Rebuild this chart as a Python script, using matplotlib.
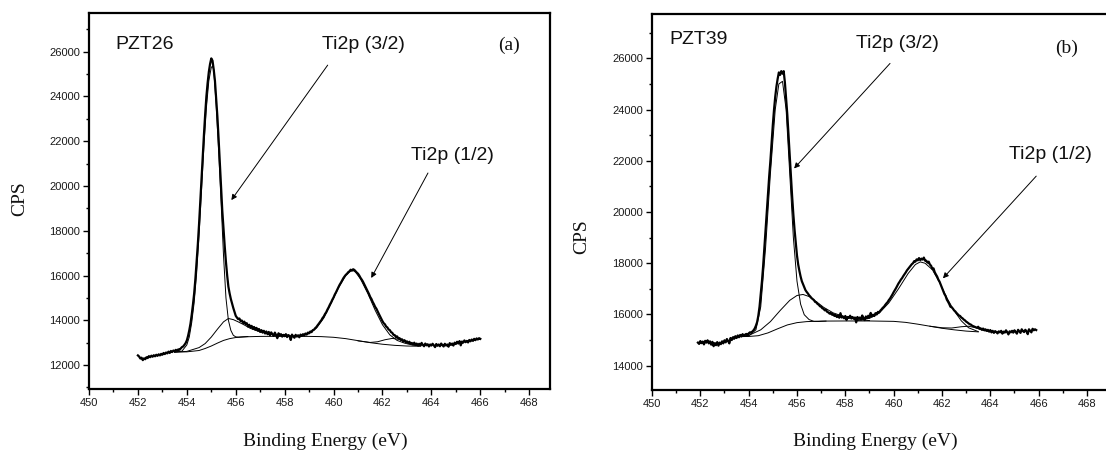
"""
Ti2p XPS spectra of PZT26 and PZT39 films, with peak fit components.
"""

import numpy as np
import matplotlib
matplotlib.use("Agg")
import matplotlib.pyplot as plt
from matplotlib.ticker import MultipleLocator

W, H = 1106, 455

# ── (a) PZT26 : measured spectrum, 0.05 eV steps from 452.0 eV
A_START = 452.0
A_STEP = 0.05
A_CPS = [
    12430, 12380, 12290, 12330, 12220, 12300, 12260, 12350, 12310, 12400,
    12350, 12420, 12370, 12440, 12390, 12460, 12410, 12480, 12430, 12500,
    12460, 12540, 12490, 12560, 12520, 12600, 12540, 12630, 12580, 12650,
    12610, 12680, 12640, 12700, 12680, 12740, 12800, 12830, 12900, 12980,
    13100, 13300, 13550, 13850, 14250, 14700, 15200, 15850, 16600, 17400,
    18300, 19300, 20300, 21300, 22300, 23200, 24000, 24600, 25100, 25450,
    25700, 25600, 25200, 24700, 23900, 23100, 22100, 21000, 19900, 18900,
    18100, 17300, 16600, 16000, 15500, 15200, 14950, 14750, 14550, 14380,
    14200, 14120, 14050, 14080, 13960, 13990, 13880, 13940, 13830, 13870,
    13720, 13800, 13680, 13750, 13620, 13700, 13580, 13660, 13540, 13610,
    13480, 13560, 13450, 13530, 13410, 13500, 13380, 13480, 13330, 13460,
    13380, 13300, 13450, 13340, 13200, 13420, 13310, 13380, 13270, 13350,
    13290, 13380, 13250, 13340, 13300, 13120, 13360, 13280, 13220, 13350,
    13270, 13330, 13240, 13360, 13300, 13380, 13320, 13410, 13360, 13450,
    13420, 13500, 13470, 13560, 13580, 13650, 13700, 13780, 13850, 13930,
    14000, 14100, 14170, 14280, 14360, 14480, 14580, 14700, 14800, 14920,
    15020, 15150, 15250, 15370, 15480, 15590, 15680, 15780, 15880, 15960,
    16030, 16080, 16150, 16190, 16260, 16220, 16280, 16250, 16190, 16130,
    16080, 16000, 15900, 15820, 15730, 15620, 15510, 15400, 15280, 15170,
    15040, 14950, 14820, 14720, 14600, 14520, 14400, 14290, 14180, 14060,
    13960, 13870, 13820, 13720, 13680, 13590, 13560, 13470, 13440, 13350,
    13340, 13250, 13280, 13180, 13200, 13120, 13150, 13050, 13110, 13020,
    13060, 12980, 13040, 12950, 12990, 12920, 13000, 12900, 12960, 12880,
    12950, 12860, 12990, 12900, 12840, 12960, 12880, 12930, 12830, 12920,
    12870, 12950, 12880, 12800, 12940, 12860, 12920, 12840, 12960, 12890,
    12830, 12950, 12870, 12920, 12820, 12980, 12900, 12960, 12870, 13000,
    12940, 13040, 12960, 13070, 12880, 13050, 13000, 13100, 13020, 13080,
    13010, 13120, 13060, 13140, 13080, 13170, 13110, 13190, 13140, 13200,
    13170,
]

# (a) fit: background
A_BG_E = [453.5, 454.0, 454.5, 454.75, 455.0, 455.25, 455.5, 455.75, 456.0,
          456.5, 457.0, 458.0, 459.0, 459.5, 460.0, 460.5, 461.0, 461.5,
          462.0, 462.5, 463.0, 463.5]
A_BG = [12580, 12590, 12650, 12740, 12850, 12980, 13100, 13180, 13230,
        13265, 13280, 13285, 13280, 13270, 13240, 13180, 13090, 13000,
        12930, 12880, 12850, 12840]

# (a) fit: main Ti2p 3/2 component
A_P1_E = [453.5, 453.8, 454.0, 454.1, 454.2, 454.3, 454.4, 454.5, 454.6,
          454.7, 454.8, 454.9, 455.0, 455.05, 455.1, 455.2, 455.3, 455.4,
          455.5, 455.6, 455.7, 455.8, 455.9, 456.0, 456.1, 456.3, 456.5]
A_P1 = [12580, 12620, 12900, 13250, 13900, 14800, 16100, 17800, 19800,
        21800, 23500, 24700, 25300, 25350, 25200, 23600, 21600, 19300,
        16900, 15000, 14000, 13550, 13330, 13260, 13250, 13265, 13275]

# (a) fit: shoulder of Ti2p 3/2
A_P2_E = [453.5, 454.0, 454.5, 454.75, 455.0, 455.25, 455.5, 455.7, 455.9,
          456.1, 456.3, 456.6, 457.0, 457.5, 458.0, 458.5]
A_P2 = [12580, 12610, 12780, 12960, 13250, 13600, 13930, 14080, 14030,
        13930, 13820, 13640, 13480, 13370, 13310, 13290]

# (a) fit: main Ti2p 1/2 component
A_P3_E = [458.5, 459.0, 459.3, 459.6, 459.9, 460.2, 460.5, 460.7, 460.8,
          460.9, 461.1, 461.4, 461.7, 462.0, 462.3, 462.6, 462.9, 463.2, 463.5]
A_P3 = [13300, 13400, 13650, 14100, 14750, 15450, 16000, 16200, 16220,
        16150, 15850, 15200, 14450, 13800, 13350, 13100, 12980, 12900, 12860]

# (a) fit: shoulder of Ti2p 1/2
A_P4_E = [461.0, 461.5, 461.8, 462.1, 462.4, 462.7, 463.0, 463.3, 463.5]
A_P4 = [13080, 13010, 13040, 13130, 13190, 13150, 13020, 12900, 12850]

# ── (b) PZT39 : measured spectrum, 0.05 eV steps from 451.9 eV
B_START = 451.9
B_STEP = 0.05
B_CPS = [
    14900, 14850, 14960, 14880, 14940, 14830, 14970, 14900, 14990, 14870,
    14950, 14820, 14930, 14760, 14880, 14800, 14920, 14780, 14900, 14840,
    14950, 14870, 14990, 14910, 15040, 14960, 14870, 15080, 15000, 15110,
    15050, 15150, 15080, 15180, 15110, 15200, 15140, 15230, 15160, 15210,
    15240, 15190, 15260, 15300, 15290, 15330, 15380, 15450, 15560, 15700,
    15950, 16300, 16800, 17300, 17900, 18600, 19350, 20000, 20700, 21400,
    22000, 22700, 23400, 24000, 24500, 24900, 25200, 25450, 25350, 25500,
    25400, 25500, 25050, 24450, 23800, 23000, 22200, 21400, 20600, 19900,
    19300, 18800, 18300, 17950, 17700, 17480, 17300, 17180, 17060, 16950,
    16880, 16820, 16750, 16700, 16640, 16600, 16560, 16490, 16470, 16410,
    16380, 16320, 16300, 16240, 16220, 16160, 16180, 16100, 16080, 16030,
    16060, 15990, 16010, 15940, 15980, 15900, 15960, 15870, 16050, 15880,
    15920, 15850, 15940, 15780, 15900, 15860, 15950, 15840, 15900, 15830,
    15880, 15690, 15900, 15840, 15880, 15800, 15960, 15850, 15780, 15920,
    15860, 15950, 15880, 16060, 15920, 15990, 15940, 16050, 16000, 16100,
    16080, 16150, 16200, 16260, 16300, 16370, 16430, 16480, 16560, 16620,
    16700, 16780, 16870, 16950, 17030, 17120, 17210, 17280, 17360, 17420,
    17500, 17570, 17640, 17720, 17780, 17840, 17900, 17960, 18000, 18080,
    18060, 18150, 18110, 18200, 18120, 18180, 18140, 18220, 18100, 18100,
    18020, 18060, 17950, 17900, 17780, 17800, 17650, 17560, 17480, 17360,
    17280, 17160, 17040, 16930, 16800, 16720, 16580, 16500, 16410, 16300,
    16280, 16230, 16160, 16120, 16060, 16010, 15960, 15940, 15880, 15850,
    15800, 15770, 15720, 15690, 15650, 15620, 15600, 15560, 15540, 15520,
    15500, 15480, 15520, 15440, 15460, 15400, 15450, 15380, 15420, 15360,
    15400, 15330, 15390, 15300, 15360, 15280, 15350, 15310, 15260, 15340,
    15300, 15360, 15250, 15330, 15290, 15380, 15310, 15220, 15340, 15300,
    15360, 15290, 15380, 15320, 15250, 15400, 15340, 15280, 15420, 15350,
    15310, 15400, 15340, 15230, 15420, 15360, 15300, 15440, 15380, 15420,
    15390,
]

B_BG_E = [453.4, 454.0, 454.4, 454.8, 455.2, 455.6, 456.0, 456.4, 457.0,
          458.0, 459.0, 460.0, 460.5, 461.0, 461.5, 462.0, 462.5, 463.0, 463.5]
B_BG = [15130, 15140, 15170, 15280, 15440, 15590, 15680, 15720, 15740,
        15745, 15745, 15730, 15690, 15620, 15540, 15460, 15400, 15350, 15320]

B_P1_E = [453.4, 454.0, 454.3, 454.5, 454.7, 454.9, 455.1, 455.25, 455.4,
          455.55, 455.7, 455.85, 456.0, 456.15, 456.3, 456.5, 456.7, 456.9, 457.2]
B_P1 = [15130, 15160, 15400, 16300, 18600, 21500, 24000, 25000, 25100,
        24000, 21500, 19000, 17300, 16400, 15990, 15800, 15730, 15725, 15740]

B_P2_E = [453.4, 454.0, 454.5, 454.9, 455.3, 455.7, 456.0, 456.25, 456.5,
          456.8, 457.1, 457.5, 458.0, 458.5, 459.0]
B_P2 = [15130, 15180, 15400, 15720, 16150, 16550, 16740, 16780, 16700,
        16500, 16280, 16060, 15900, 15800, 15760]

B_P3_E = [458.5, 459.0, 459.4, 459.8, 460.2, 460.6, 460.9, 461.1, 461.3,
          461.6, 461.9, 462.2, 462.5, 462.8, 463.1, 463.5]
B_P3 = [15760, 15850, 16050, 16450, 17000, 17600, 17950, 18050, 18000,
        17750, 17250, 16650, 16150, 15750, 15480, 15330]

B_P4_E = [461.5, 462.0, 462.4, 462.8, 463.1, 463.4, 463.7, 464.0]
B_P4 = [15540, 15480, 15470, 15520, 15540, 15480, 15380, 15320]

XLIM = (450, 468.85)
A_YLIM = (10930, 27715)
B_YLIM = (13050, 27730)

SANS = ["Liberation Sans", "DejaVu Sans"]
SERIF = ["Liberation Serif", "DejaVu Serif"]


def frac(px, py):
    return px / W, 1 - py / H


def draw_panel(ax, start, step, cps, fits, ylim):
    energy = start + step * np.arange(len(cps))
    for e, c in fits:
        ax.plot(e, c, color="black", lw=0.7, zorder=2)
    ax.plot(energy, cps, color="black", lw=1.6, zorder=3)

    ax.set_xlim(*XLIM)
    ax.set_ylim(*ylim)
    ax.xaxis.set_major_locator(MultipleLocator(2))
    ax.xaxis.set_minor_locator(MultipleLocator(1))
    ax.yaxis.set_major_locator(MultipleLocator(2000))
    ax.yaxis.set_minor_locator(MultipleLocator(1000))
    ax.tick_params(which="both", direction="out", top=False, right=False,
                   width=1, colors="black")
    ax.tick_params(which="major", length=4.5, pad=2, labelsize=8)
    ax.tick_params(which="minor", length=2.5)
    for lab in ax.get_xticklabels() + ax.get_yticklabels():
        lab.set_family(SANS)
        lab.set_color("#1a1a1a")
    for s in ax.spines.values():
        s.set_linewidth(1.6)


def note(ax, txt, xy, family=SANS):
    ax.text(xy[0], xy[1], txt, fontsize=14, family=family,
            ha="center", va="center", color="#111111")


def arrow(ax, tail, head):
    ax.annotate("", xy=head, xytext=tail,
                arrowprops=dict(arrowstyle="-|>", lw=0.7, color="black",
                                mutation_scale=8, shrinkA=0, shrinkB=0))


fig = plt.figure(figsize=(W / 100, H / 100), dpi=100)

# ── panel (a)
ax_a = fig.add_axes([89 / W, (H - 389) / H, (550 - 89) / W, (389 - 13.3) / H])
draw_panel(ax_a, A_START, A_STEP, A_CPS,
           [(A_BG_E, A_BG), (A_P1_E, A_P1), (A_P2_E, A_P2),
            (A_P3_E, A_P3), (A_P4_E, A_P4)], A_YLIM)
note(ax_a, "PZT26", (452.28, 26300))
note(ax_a, "Ti2p (3/2)", (461.23, 26300))
note(ax_a, "Ti2p (1/2)", (464.87, 21380))
note(ax_a, "(a)", (467.16, 26300), SERIF)
arrow(ax_a, (459.76, 25400), (455.82, 19370))
arrow(ax_a, (463.86, 20580), (461.54, 15890))

# ── panel (b), right frame falls just outside the picture
ax_b = fig.add_axes([652 / W, (H - 390) / H, (1107.5 - 652) / W, (390 - 14) / H])
draw_panel(ax_b, B_START, B_STEP, B_CPS,
           [(B_BG_E, B_BG), (B_P1_E, B_P1), (B_P2_E, B_P2),
            (B_P3_E, B_P3), (B_P4_E, B_P4)], B_YLIM)
note(ax_b, "PZT39", (451.92, 26730))
note(ax_b, "Ti2p (3/2)", (460.15, 26560))
note(ax_b, "Ti2p (1/2)", (466.5, 22260))
note(ax_b, "(b)", (467.16, 26400), SERIF)
arrow(ax_b, (459.85, 25800), (455.88, 21700))
arrow(ax_b, (465.9, 21400), (462.04, 17410))

# axis titles
for (px, py), txt, rot in [((325, 441), "Binding Energy (eV)", 0),
                           ((20, 199), "CPS", 90),
                           ((875, 441), "Binding Energy (eV)", 0),
                           ((582, 237), "CPS", 90)]:
    fig.text(*frac(px, py), txt, fontsize=14, family=SERIF, rotation=rot,
             ha="center", va="center", color="#111111")

fig.savefig("out.png", dpi=100)
